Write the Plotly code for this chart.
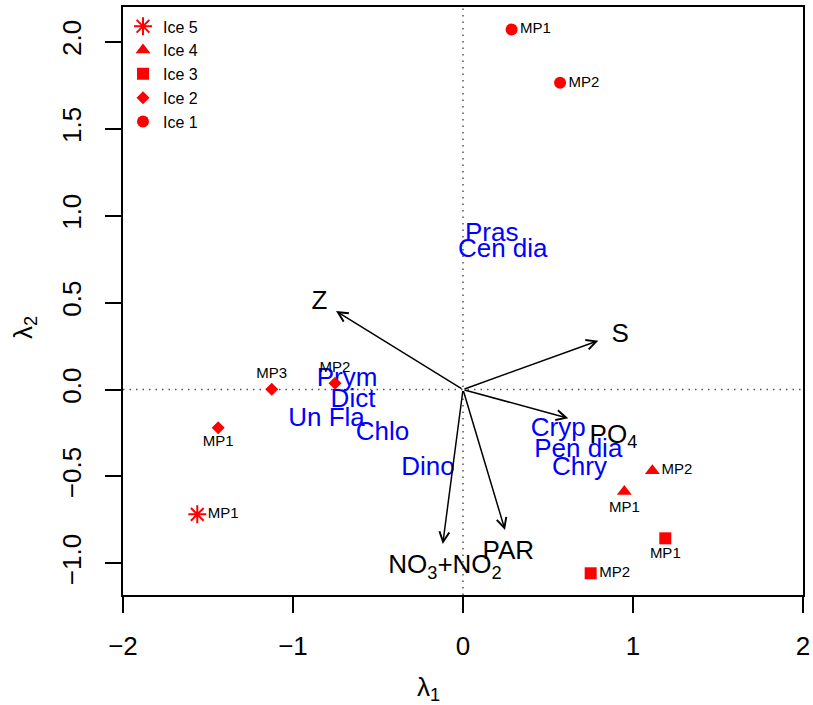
import plotly.graph_objects as go

FONT = "Liberation Sans, Arial, sans-serif"

# ---- site scores (ice cores / sampling points) ----
ice1_x = [0.286, 0.571]
ice1_y = [2.071, 1.764]
ice1_lab = ["MP1", "MP2"]

ice2_x = [-1.44, -0.753, -1.125]
ice2_y = [-0.22, 0.036, 0.001]
ice2_lab = ["MP1", "MP2", "MP3"]

ice3_x = [1.19, 0.751]
ice3_y = [-0.856, -1.057]
ice3_lab = ["MP1", "MP2"]

ice4_x = [0.949, 1.114]
ice4_y = [-0.586, -0.467]
ice4_lab = ["MP1", "MP2"]

ice5_x = [-1.563]
ice5_y = [-0.718]
ice5_lab = ["MP1"]

# ---- species scores ----
species = ["Pras", "Cen dia", "Prym", "Dict", "Un Fla", "Chlo", "Dino", "Cryp", "Pen dia", "Chry"]
sp_x = [0.169, 0.234, -0.682, -0.647, -0.803, -0.474, -0.206, 0.56, 0.678, 0.685]
sp_y = [0.892, 0.798, 0.058, -0.062, -0.171, -0.255, -0.455, -0.229, -0.348, -0.453]

# ---- environmental vectors ----
env = ["Z", "S", "PO<sub>4</sub>", "NO<sub>3</sub>+NO<sub>2</sub>", "PAR"]
env_tip_x = [-0.747, 0.796, 0.619, -0.119, 0.247]
env_tip_y = [0.451, 0.281, -0.166, -0.888, -0.808]
env_lab_x = [-0.845, 0.924, 0.885, -0.106, 0.267]
env_lab_y = [0.503, 0.313, -0.268, -1.019, -0.937]

# ---- axis ticks ----
x_ticks = [-2, -1, 0, 1, 2]
x_ticktext = ["\u22122", "\u22121", "0", "1", "2"]
y_ticks = [-1.0, -0.5, 0.0, 0.5, 1.0, 1.5, 2.0]
y_ticktext = ["\u22121.0", "\u22120.5", "0.0", "0.5", "1.0", "1.5", "2.0"]

# ---- styles ----
groups = [
    ("Ice 1", ice1_x, ice1_y, ice1_lab, dict(symbol="circle", size=12),
     ["middle right", "middle right"]),
    ("Ice 2", ice2_x, ice2_y, ice2_lab, dict(symbol="diamond", size=10),
     ["bottom center", "top center", "top center"]),
    ("Ice 3", ice3_x, ice3_y, ice3_lab, dict(symbol="square", size=12),
     ["bottom center", "middle right"]),
    ("Ice 4", ice4_x, ice4_y, ice4_lab, dict(symbol="triangle-up", size=13),
     ["bottom center", "middle right"]),
    ("Ice 5", ice5_x, ice5_y, ice5_lab,
     dict(symbol="asterisk-open", size=15, line=dict(color="red", width=2)),
     ["middle right"]),
]

fig = go.Figure()

# dotted zero lines
fig.add_shape(type="line", x0=-2, x1=2, y0=0, y1=0, xref="x", yref="y",
              line=dict(color="#555555", width=1.5, dash="1.5px,5px"), layer="below")
fig.add_shape(type="line", x0=0, x1=0, y0=-1.182, y1=2.2, xref="x", yref="y",
              line=dict(color="#555555", width=1.5, dash="1.5px,5px"), layer="below")

# species labels
fig.add_trace(go.Scatter(x=sp_x, y=sp_y, mode="text", text=species,
                         textposition="middle center",
                         textfont=dict(family=FONT, size=26, color="#0000FF"),
                         showlegend=False, hoverinfo="skip"))

# environmental labels
fig.add_trace(go.Scatter(x=env_lab_x, y=env_lab_y, mode="text", text=env,
                         textposition="middle center",
                         textfont=dict(family=FONT, size=26, color="black"),
                         showlegend=False, hoverinfo="skip"))

# sites
for name, xs, ys, labs, mk, tpos in groups:
    marker = dict(color="red")
    marker.update(mk)
    fig.add_trace(go.Scatter(x=xs, y=ys, mode="markers+text", name=name,
                             text=labs, textposition=tpos, marker=marker,
                             textfont=dict(family=FONT, size=15, color="black")))

# arrows
for tx, ty in zip(env_tip_x, env_tip_y):
    fig.add_annotation(x=tx, y=ty, ax=0, ay=0, xref="x", yref="y",
                       axref="x", ayref="y", text="", showarrow=True,
                       arrowhead=5, arrowsize=1.3, arrowwidth=1.5,
                       arrowcolor="black", font=dict(size=1))

# axis titles
fig.add_annotation(text="\u03bb<sub>1</sub>", x=(428 - 123) / 680, y=0,
                   xref="paper", yref="paper", xanchor="center", yanchor="middle",
                   yshift=-93, showarrow=False,
                   font=dict(family=FONT, size=26, color="black"))
fig.add_annotation(text="\u03bb<sub>2</sub>", x=0, y=(595 - 328) / 588,
                   xref="paper", yref="paper", xanchor="center", yanchor="middle",
                   xshift=-99, textangle=-90, showarrow=False,
                   font=dict(family=FONT, size=26, color="black"))

axis_common = dict(showline=True, linecolor="black", linewidth=1.5, mirror=True,
                   ticks="outside", ticklen=16, tickwidth=1.5, tickcolor="black",
                   showgrid=False, zeroline=False, automargin=False,
                   tickfont=dict(family=FONT, size=26, color="black"))

fig.update_layout(
    width=813, height=705, autosize=False,
    margin=dict(l=123, r=10, t=7, b=110),
    paper_bgcolor="white", plot_bgcolor="white",
    xaxis=dict(range=[-2, 2], tickvals=x_ticks, ticktext=x_ticktext,
               ticklabelstandoff=11, **axis_common),
    yaxis=dict(range=[-1.182, 2.2], tickvals=y_ticks, ticktext=y_ticktext,
               tickangle=-90, ticklabelstandoff=14, **axis_common),
    legend=dict(x=0.0, y=0.996, xanchor="left", yanchor="top", traceorder="reversed",
                bgcolor="rgba(0,0,0,0)", borderwidth=0,
                font=dict(family=FONT, size=16, color="black"),
                itemwidth=30, tracegroupgap=0),
    showlegend=True,
)

fig.write_html("out.html",
               config={"displayModeBar": False, "responsive": False},
               default_width="813px", default_height="705px",
               post_script="document.body.style.margin='0px';document.body.style.overflow='hidden';")
